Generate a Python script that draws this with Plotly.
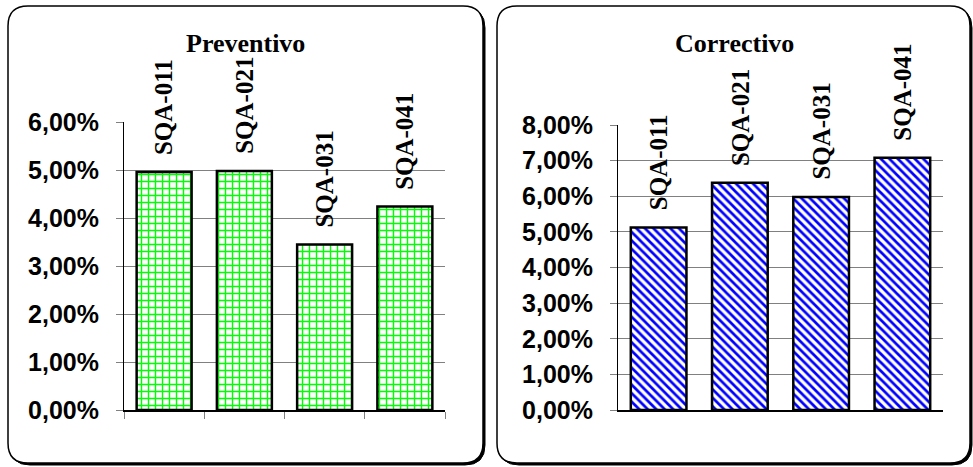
import plotly.graph_objects as go

# Data
equipos = ["SQA-011", "SQA-021", "SQA-031", "SQA-041"]
preventivo = [0.0496, 0.0498, 0.0345, 0.0424]
correctivo = [0.0512, 0.0638, 0.0598, 0.0708]
titulo_prev = "Preventivo"
titulo_corr = "Correctivo"

W, H = 973, 467


def px(x):
    return x / W


def py(y):
    return 1 - y / H


def rounded_rect(x0, y0, x1, y1, r):
    """SVG path (paper coords) for a rounded rectangle given in pixels."""
    pts = [
        f"M {px(x0 + r)} {py(y0)}",
        f"L {px(x1 - r)} {py(y0)}",
        f"Q {px(x1)} {py(y0)} {px(x1)} {py(y0 + r)}",
        f"L {px(x1)} {py(y1 - r)}",
        f"Q {px(x1)} {py(y1)} {px(x1 - r)} {py(y1)}",
        f"L {px(x0 + r)} {py(y1)}",
        f"Q {px(x0)} {py(y1)} {px(x0)} {py(y1 - r)}",
        f"L {px(x0)} {py(y0 + r)}",
        f"Q {px(x0)} {py(y0)} {px(x0 + r)} {py(y0)}",
        "Z",
    ]
    return " ".join(pts)


fig = go.Figure()

fig.add_trace(go.Bar(
    x=equipos, y=preventivo, xaxis="x", yaxis="y",
    marker=dict(
        color="white",
        line=dict(color="black", width=2.5),
        pattern=dict(shape="+", fgcolor="#00ff00", bgcolor="white",
                     fgopacity=1, size=7, solidity=0.36, fillmode="replace"),
    ),
    showlegend=False,
))

fig.add_trace(go.Bar(
    x=equipos, y=correctivo, xaxis="x2", yaxis="y2",
    marker=dict(
        color="white",
        line=dict(color="black", width=2.5),
        pattern=dict(shape="\\", fgcolor="#0000ff", bgcolor="white",
                     fgopacity=1, size=6, solidity=0.45, fillmode="replace"),
    ),
    showlegend=False,
))

tick_font = dict(family="Liberation Sans", size=25, color="black", weight="bold")
label_font = dict(family="Liberation Serif", size=25, color="black", weight="bold")
title_font = dict(family="Liberation Serif", size=26, color="black", weight="bold")

annotations = []
for name, v in zip(equipos, preventivo):
    annotations.append(dict(
        x=name, y=v, xref="x", yref="y", text=name, textangle=-90,
        showarrow=False, xanchor="center", yanchor="bottom", yshift=16,
        borderpad=0, font=label_font,
    ))
for name, v in zip(equipos, correctivo):
    annotations.append(dict(
        x=name, y=v, xref="x2", yref="y2", text=name, textangle=-90,
        showarrow=False, xanchor="center", yanchor="bottom", yshift=16,
        borderpad=0, font=label_font,
    ))
annotations.append(dict(
    x=px(245.5), y=py(43), xref="paper", yref="paper", text=titulo_prev,
    showarrow=False, xanchor="center", yanchor="middle", font=title_font,
))
annotations.append(dict(
    x=px(734.5), y=py(43), xref="paper", yref="paper", text=titulo_corr,
    showarrow=False, xanchor="center", yanchor="middle", font=title_font,
))

shapes = []
for (x0, x1) in [(8, 483), (497, 970)]:
    shapes.append(dict(
        type="path", xref="paper", yref="paper", layer="below",
        path=rounded_rect(x0 + 2, 8, x1 + 2, 465, 20),
        fillcolor="black", line=dict(color="black", width=1),
    ))
    shapes.append(dict(
        type="path", xref="paper", yref="paper", layer="below",
        path=rounded_rect(x0, 6, x1, 463, 20),
        fillcolor="white", line=dict(color="black", width=1.5),
    ))

grid_color = "#808080"

fig.update_layout(
    width=W, height=H, autosize=False,
    margin=dict(l=0, r=0, t=0, b=0, pad=0, autoexpand=False),
    paper_bgcolor="white", plot_bgcolor="rgba(0,0,0,0)",
    separators=",.",
    bargap=0.315,
    annotations=annotations,
    shapes=shapes,
    xaxis=dict(
        domain=[px(124), px(445)], anchor="y", automargin=False,
        showticklabels=False, showgrid=False,
        showline=True, linecolor="black", linewidth=1.5,
        ticks="outside", tickson="boundaries", ticklen=7,
        tickcolor=grid_color, tickwidth=1,
    ),
    yaxis=dict(
        domain=[py(410), py(122)], anchor="x", automargin=False,
        range=[0, 0.06], dtick=0.01, tickformat=".2%",
        showgrid=True, gridcolor=grid_color, gridwidth=1,
        showline=True, linecolor="black", linewidth=1,
        ticks="outside", ticklen=7, tickcolor=grid_color, tickwidth=1,
        ticklabelstandoff=12, tickfont=tick_font, zeroline=False,
    ),
    xaxis2=dict(
        domain=[px(618), px(943)], anchor="y2", automargin=False,
        showticklabels=False, showgrid=False,
        showline=True, linecolor="black", linewidth=1.5, ticks="",
    ),
    yaxis2=dict(
        domain=[py(410), py(125)], anchor="x2", automargin=False,
        range=[0, 0.08], dtick=0.01, tickformat=".2%",
        showgrid=True, gridcolor=grid_color, gridwidth=1,
        showline=True, linecolor="black", linewidth=1,
        ticks="outside", ticklen=7, tickcolor=grid_color, tickwidth=1,
        ticklabelstandoff=12, tickfont=tick_font, zeroline=False,
    ),
)

fig.write_html("out.html")
